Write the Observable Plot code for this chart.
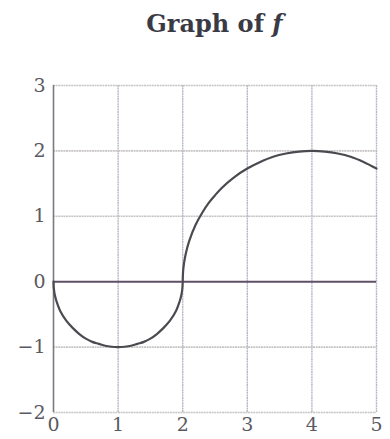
<!DOCTYPE html>
<html>
<head>
<meta charset="utf-8">
<script src="https://cdn.jsdelivr.net/npm/d3@7"></script>
<script src="https://cdn.jsdelivr.net/npm/@observablehq/plot@0.6"></script>
<style>
  html, body { margin: 0; padding: 0; background: #fff; }
  #title {
    box-sizing: border-box;
    height: 60px;
    margin-left: 53px;
    width: 323px;
    padding-top: 12px;
    text-align: center;
    font-family: "DejaVu Serif", "Liberation Serif", serif;
    font-weight: bold;
    font-size: 24px;
    line-height: 24px;
    color: #3a3a44;
  }
  #title i { font-style: italic; }
</style>
</head>
<body>
<div id="title">Graph of <i>f</i></div>
<div id="chart"></div>
<script>
// Points along the graph of f
const xs = [0, 0.005, 0.02, 0.05, 0.1, 0.2, 0.3, 0.4, 0.5, 0.6, 0.7, 0.8, 0.9, 1,
            1.1, 1.2, 1.3, 1.4, 1.5, 1.6, 1.7, 1.8, 1.9, 1.95, 1.98, 1.995, 2,
            2.005, 2.02, 2.05, 2.1, 2.2, 2.3, 2.4, 2.5, 2.6, 2.8, 3, 3.2, 3.4, 3.6, 3.8, 4,
            4.2, 4.4, 4.6, 4.8, 5];
const ys = [0, -0.1, -0.2, -0.31, -0.44, -0.6, -0.71, -0.8, -0.87, -0.92, -0.95, -0.98, -0.995, -1,
            -0.995, -0.98, -0.95, -0.92, -0.87, -0.8, -0.71, -0.6, -0.44, -0.31, -0.2, -0.1, 0,
            0.14, 0.28, 0.44, 0.62, 0.87, 1.05, 1.2, 1.32, 1.43, 1.6, 1.73, 1.83, 1.91, 1.96, 1.99, 2,
            1.99, 1.96, 1.91, 1.83, 1.73];

// Axis ticks
const xTicks = [0, 1, 2, 3, 4, 5];
const yTicks = [-2, -1, 0, 1, 2, 3];

const pts = xs.map((x, i) => ({x, y: ys[i]}));

const serif = "'DejaVu Serif', 'Liberation Serif', serif";
const fmt = d => (d < 0 ? "\u2212" + (-d) : String(d));

const chart = Plot.plot({
  width: 390,
  height: 379,
  marginLeft: 53,
  marginRight: 14,
  marginTop: 25,
  marginBottom: 27,
  style: {fontFamily: serif, fontSize: "19px", color: "#5a5a62", background: "#fff"},
  x: {domain: [0, 5], ticks: xTicks, tickFormat: fmt, tickSize: 0, tickPadding: 5, label: null},
  y: {domain: [-2, 3], ticks: yTicks, tickFormat: fmt, tickSize: 0, tickPadding: 8, label: null},
  marks: [
    // light grid
    Plot.ruleX(xTicks.filter(d => d > 0), {stroke: "#b9b6c6", strokeWidth: 1.4, strokeDasharray: "2,0.6"}),
    Plot.ruleY(yTicks.filter(d => d !== 0), {stroke: "#c8c4c4", strokeWidth: 1.6, strokeDasharray: "2,0.6"}),
    // left edge of the frame
    Plot.ruleX([0], {stroke: "#7a7a82", strokeWidth: 1.6}),
    // horizontal axis through 0
    Plot.ruleY([0], {stroke: "#5f5068", strokeWidth: 2}),
    // graph of f
    Plot.line(pts, {x: "x", y: "y", curve: "catmull-rom", stroke: "#4a4a50", strokeWidth: 2.2})
  ]
});
document.getElementById("chart").append(chart);
</script>
</body>
</html>
